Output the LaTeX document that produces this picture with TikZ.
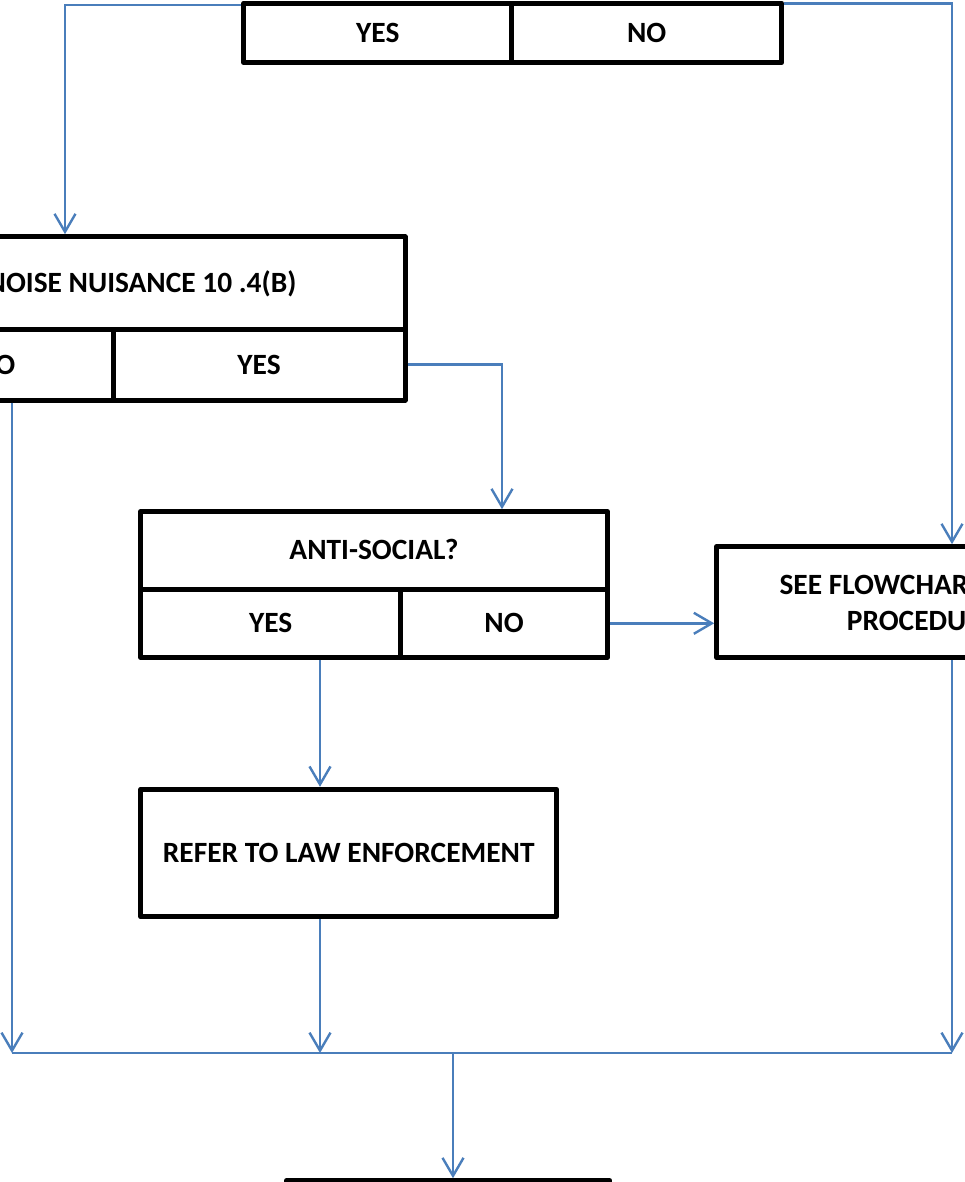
\documentclass[tikz,border=0pt]{standalone}
\usepackage{fontspec}
\setmainfont{Carlito}
\usetikzlibrary{arrows.meta}
\definecolor{flowblue}{RGB}{74,126,187}
\tikzset{
  cell/.style={draw=black, line width=5pt, line join=round, rectangle,
    inner sep=0pt, align=center, text height=18.9pt, text depth=0pt,
    font=\bfseries\fontsize{29.4}{35.5}\selectfont},
  label/.style={inner sep=0pt, font=\bfseries\fontsize{29.4}{35.5}\selectfont},
  flow/.style={draw=flowblue, line width=2.4pt,
    -{Straight Barb[length=18pt,width=21pt]}},
  bus/.style={draw=flowblue, line width=2.4pt}
}
\begin{document}
\begin{tikzpicture}[x=1pt,y=-1pt]
\useasboundingbox (0,0) rectangle (965,1182);
\clip (0,0) rectangle (965,1182);

% answer row of the first decision
\node[cell, minimum width=267.7pt, minimum height=59.7pt] (topYes) at (377.8,32.9) {YES};
\node[cell, minimum width=270pt, minimum height=59.7pt] (topNo) at (646.7,32.9) {NO};

% noise nuisance decision
\node[cell, minimum width=527pt, minimum height=92.6pt] (noiseQ) at (141.5,283) {NOISE NUISANCE 10 .4(B)};
\node[cell, minimum width=235pt, minimum height=70.7pt] (noiseNo) at (-4.5,364.65) {NO};
\node[cell, minimum width=292pt, minimum height=70.7pt] (noiseYes) at (259,364.65) {YES};

% anti-social decision
\node[cell, minimum width=466.6pt, minimum height=77.6pt] (antiQ) at (374,550.5) {ANTI-SOCIAL?};
\node[cell, minimum width=260pt, minimum height=68pt] (antiYes) at (270.7,623.3) {YES};
\node[cell, minimum width=206.6pt, minimum height=68pt] (antiNo) at (504,623.3) {NO};

% other procedure
\node[cell, minimum width=403.6pt, minimum height=111pt] (seeBox) at (918.5,602.2) {};
\node[label, anchor=base west] (seeL1) at (779.3,594) {SEE FLOWCHART};
\node[label, anchor=base west] (seeL2) at (846.7,630) {PROCEDURE};

% referral
\node[cell, minimum width=416pt, minimum height=127.4pt] (refer) at (348.7,853) {REFER TO LAW ENFORCEMENT};

% final step
\node[cell, minimum width=323.3pt, minimum height=100pt] (endBox) at (448.3,1230.7) {};

% connector points
\coordinate (tl) at (65,5);
\coordinate (tr) at (952,3.5);
\coordinate (nyTurn) at (502,364.5);
\coordinate (busL) at (12,1053);
\coordinate (busYes) at (320,1053);
\coordinate (busR) at (952,1053);
\coordinate (busM) at (453,1053);

% connectors
\draw[flow] (topYes.west |- tl) -- (tl) -- (tl |- noiseQ.north);
\draw[flow] (topNo.east |- tr) -- (tr) -- (tr |- seeBox.north);
\draw[flow] (noiseYes.east |- nyTurn) -- (nyTurn) -- (nyTurn |- antiQ.north);
\draw[flow] (busL |- noiseNo.south) -- (busL);
\draw[flow] (busYes |- antiYes.south) -- (busYes |- refer.north);
\draw[flow] (antiNo.east) -- (antiNo.east -| seeBox.west);
\draw[flow] (busYes |- refer.south) -- (busYes);
\draw[flow] (busR |- seeBox.south) -- (busR);
\draw[bus] (busL) -- (busR);
\draw[flow] (busM) -- (busM |- endBox.north);
\end{tikzpicture}
\end{document}
